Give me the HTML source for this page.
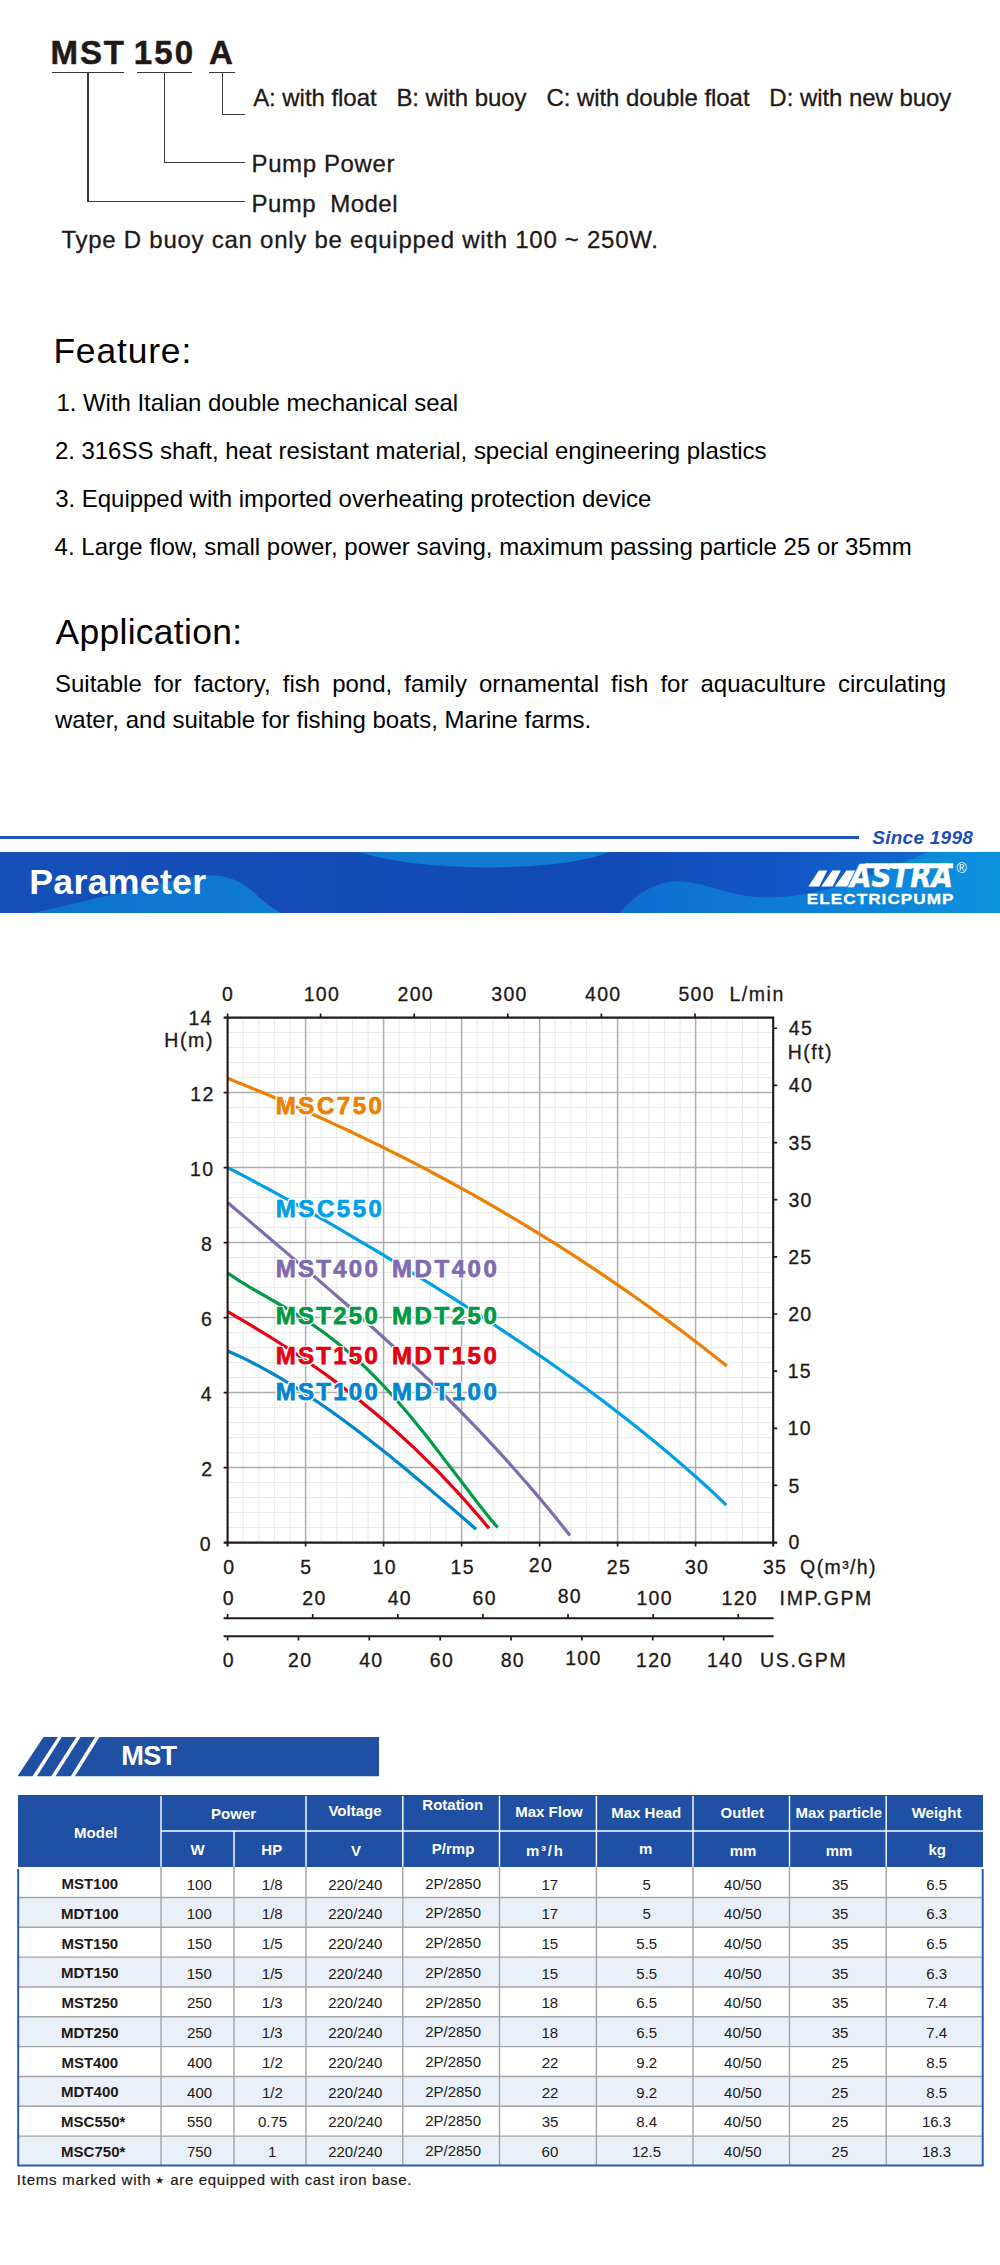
<!DOCTYPE html>
<html lang="en"><head><meta charset="utf-8"><title>MST pump parameters</title>
<style>
html,body{margin:0;padding:0;background:#fff;}
body{width:1000px;height:2265px;position:relative;overflow:hidden;font-family:"Liberation Sans",sans-serif;color:#231815;}
.t{position:absolute;white-space:nowrap;line-height:1;}
.r{position:absolute;display:block;}
.para{position:absolute;left:55px;top:665.7px;width:891px;font-size:24px;line-height:36px;color:#000;text-align:justify;}
.h{text-shadow:0.80px 0.00px 0 #fff,0.69px 0.40px 0 #fff,0.40px 0.69px 0 #fff,0.00px 0.80px 0 #fff,-0.40px 0.69px 0 #fff,-0.69px 0.40px 0 #fff,-0.80px 0.00px 0 #fff,-0.69px -0.40px 0 #fff,-0.40px -0.69px 0 #fff,-0.00px -0.80px 0 #fff,0.40px -0.69px 0 #fff,0.69px -0.40px 0 #fff,1.50px 0.00px 0 #fff,1.30px 0.75px 0 #fff,0.75px 1.30px 0 #fff,0.00px 1.50px 0 #fff,-0.75px 1.30px 0 #fff,-1.30px 0.75px 0 #fff,-1.50px 0.00px 0 #fff,-1.30px -0.75px 0 #fff,-0.75px -1.30px 0 #fff,-0.00px -1.50px 0 #fff,0.75px -1.30px 0 #fff,1.30px -0.75px 0 #fff;}
</style></head>
<body>
<span class="t" style="left:50.62px;top:36.07px;font-size:33px;font-weight:700;letter-spacing:1.82px;-webkit-text-stroke:0.5px #231815;">MST</span>
<span class="t" style="left:133.65px;top:36.07px;font-size:33px;font-weight:700;letter-spacing:2.21px;-webkit-text-stroke:0.5px #231815;">150</span>
<span class="t" style="left:209.11px;top:36.07px;font-size:33px;font-weight:700;-webkit-text-stroke:0.5px #231815;">A</span>
<div class="r" style="left:52.00px;top:71.80px;width:71.50px;height:1.20px;background:#3e3a39;"></div>
<div class="r" style="left:136.50px;top:71.80px;width:55.00px;height:1.20px;background:#3e3a39;"></div>
<div class="r" style="left:208.50px;top:71.80px;width:26.50px;height:1.20px;background:#3e3a39;"></div>
<div class="r" style="left:87.40px;top:72.00px;width:1.20px;height:130.00px;background:#3e3a39;"></div>
<div class="r" style="left:87.40px;top:200.90px;width:157.60px;height:1.20px;background:#3e3a39;"></div>
<div class="r" style="left:163.70px;top:72.00px;width:1.20px;height:91.00px;background:#3e3a39;"></div>
<div class="r" style="left:163.70px;top:161.90px;width:81.30px;height:1.20px;background:#3e3a39;"></div>
<div class="r" style="left:221.60px;top:72.00px;width:1.20px;height:42.80px;background:#3e3a39;"></div>
<div class="r" style="left:221.60px;top:113.60px;width:23.00px;height:1.20px;background:#3e3a39;"></div>
<span class="t" style="left:253.15px;top:86.08px;font-size:24px;letter-spacing:-0.05px;-webkit-text-stroke:0.3px #231815;white-space:pre;">A: with float   B: with buoy   C: with double float   D: with new buoy</span>
<span class="t" style="left:251.53px;top:151.58px;font-size:24px;letter-spacing:0.61px;-webkit-text-stroke:0.3px #231815;">Pump Power</span>
<span class="t" style="left:251.53px;top:191.88px;font-size:24px;letter-spacing:0.46px;-webkit-text-stroke:0.3px #231815;white-space:pre;">Pump  Model</span>
<span class="t" style="left:61.47px;top:228.28px;font-size:24px;letter-spacing:0.74px;-webkit-text-stroke:0.3px #231815;">Type D buoy can only be equipped with 100 ~ 250W.</span>
<span class="t" style="left:53.40px;top:333.53px;font-size:35.4px;letter-spacing:0.86px;color:#000;">Feature:</span>
<span class="t" style="left:56.38px;top:391.48px;font-size:24px;letter-spacing:-0.03px;color:#000;">1. With Italian double mechanical seal</span>
<span class="t" style="left:54.90px;top:439.38px;font-size:24px;letter-spacing:-0.03px;color:#000;">2. 316SS shaft, heat resistant material, special engineering plastics</span>
<span class="t" style="left:55.19px;top:487.28px;font-size:24px;letter-spacing:-0.03px;color:#000;">3. Equipped with imported overheating protection device</span>
<span class="t" style="left:54.57px;top:535.18px;font-size:24px;letter-spacing:0.01px;color:#000;">4. Large flow, small power, power saving, maximum passing particle 25 or 35mm</span>
<span class="t" style="left:55.53px;top:615.23px;font-size:35.4px;letter-spacing:0.32px;color:#000;">Application:</span>
<div class="para">Suitable for factory, fish pond, family ornamental fish for aquaculture circulating water, and suitable for fishing boats, Marine farms.</div>
<div class="r" style="left:0;top:836.2px;width:859px;height:3px;background:#1c57b9"></div>
<span class="t" style="left:872.27px;top:827.62px;font-size:19px;font-weight:700;font-style:italic;letter-spacing:0.26px;color:#1c4fb4;">Since 1998</span>
<svg class="r" style="left:0;top:851.5px" width="1000" height="61.5" viewBox="0 851.5 1000 61.5">
<defs>
<linearGradient id="bg" x1="0" x2="1" y1="0" y2="0"><stop offset="0" stop-color="#154fb8"/><stop offset="0.6" stop-color="#114ab4"/><stop offset="0.8" stop-color="#1258c6"/><stop offset="1" stop-color="#0f74d6"/></linearGradient>
<linearGradient id="lt" x1="0" x2="1" y1="0" y2="0"><stop offset="0" stop-color="#0e74ce"/><stop offset="1" stop-color="#0f7ad3"/></linearGradient>
<linearGradient id="rt" x1="0" x2="1" y1="0" y2="0"><stop offset="0" stop-color="#0f6ccf"/><stop offset="1" stop-color="#0c92de"/></linearGradient>
</defs>
<rect x="0" y="851.5" width="1000" height="61.5" fill="url(#bg)"/>
<path d="M30 913 C100 898 150 884 190 877 C225 871 240 880 255 893 C265 902 272 908 282 913 Z" fill="url(#lt)"/>
<path d="M359 851.5 C420 872 560 872 609 851.5 Z" fill="#117bd2"/>
<path d="M619 913 C635 895 650 884 672 881 C700 878 730 898 770 897 C830 896 880 870 930 851.5 L1000 851.5 L1000 913 Z" fill="url(#rt)"/>
</svg>
<span class="t" style="left:29.24px;top:865.18px;font-size:35.7px;font-weight:700;letter-spacing:0.29px;color:#fff;">Parameter</span>
<svg class="r" style="left:800px;top:855px" width="180" height="40" viewBox="800 855 180 40">
<g fill="#fff">
<polygon points="808.4,886.5 819.2,886.5 827.2,870.4 818.8,870.4"/>
<polygon points="821.2,886.5 832.6,886.5 840.8,870.4 832.4,870.4"/>
<polygon points="834.8,886.5 847.2,886.5 855.2,870.4 846.4,870.4"/>
<polygon points="865.6,863.2 953.2,863.2 953.2,868.2 862.4,868.2"/>
</g>
<text x="850" y="886.5" font-family="DejaVu Sans, sans-serif" font-weight="700" font-style="italic" font-size="31.5" fill="#fff" stroke="#fff" stroke-width="0.5" textLength="103" lengthAdjust="spacingAndGlyphs">ASTRA</text>
<text x="961.6" y="872.6" font-family="Liberation Sans, sans-serif" font-size="14" fill="#fff" text-anchor="middle">®</text>
</svg>
<span class="t" style="left:807.00px;top:890.83px;font-size:15.2px;font-weight:700;letter-spacing:0.90px;color:#fff;-webkit-text-stroke:0.3px #fff;transform:scaleX(1.13);transform-origin:1.1px 0;">ELECTRICPUMP</span>
<svg class="r" style="left:0;top:960px" width="1000" height="740" viewBox="0 960 1000 740">
<path d="M243.20 1017.60V1542.60M258.80 1017.60V1542.60M274.40 1017.60V1542.60M290.00 1017.60V1542.60M321.20 1017.60V1542.60M336.80 1017.60V1542.60M352.40 1017.60V1542.60M368.00 1017.60V1542.60M399.20 1017.60V1542.60M414.80 1017.60V1542.60M430.40 1017.60V1542.60M446.00 1017.60V1542.60M477.20 1017.60V1542.60M492.80 1017.60V1542.60M508.40 1017.60V1542.60M524.00 1017.60V1542.60M555.20 1017.60V1542.60M570.80 1017.60V1542.60M586.40 1017.60V1542.60M602.00 1017.60V1542.60M633.20 1017.60V1542.60M648.80 1017.60V1542.60M664.40 1017.60V1542.60M680.00 1017.60V1542.60M711.20 1017.60V1542.60M726.80 1017.60V1542.60M742.40 1017.60V1542.60M758.00 1017.60V1542.60M227.60 1527.60H773.60M227.60 1512.60H773.60M227.60 1497.60H773.60M227.60 1482.60H773.60M227.60 1452.60H773.60M227.60 1437.60H773.60M227.60 1422.60H773.60M227.60 1407.60H773.60M227.60 1377.60H773.60M227.60 1362.60H773.60M227.60 1347.60H773.60M227.60 1332.60H773.60M227.60 1302.60H773.60M227.60 1287.60H773.60M227.60 1272.60H773.60M227.60 1257.60H773.60M227.60 1227.60H773.60M227.60 1212.60H773.60M227.60 1197.60H773.60M227.60 1182.60H773.60M227.60 1152.60H773.60M227.60 1137.60H773.60M227.60 1122.60H773.60M227.60 1107.60H773.60M227.60 1077.60H773.60M227.60 1062.60H773.60M227.60 1047.60H773.60M227.60 1032.60H773.60" stroke="#e5e5e5" stroke-width="0.9" fill="none"/>
<path d="M305.60 1017.60V1542.60M383.60 1017.60V1542.60M461.60 1017.60V1542.60M539.60 1017.60V1542.60M617.60 1017.60V1542.60M695.60 1017.60V1542.60M227.60 1467.60H773.60M227.60 1392.60H773.60M227.60 1317.60H773.60M227.60 1242.60H773.60M227.60 1167.60H773.60M227.60 1092.60H773.60" stroke="#adadad" stroke-width="1.5" fill="none"/>
<polyline points="227.6,1078.3 237.8,1082.4 248.0,1086.6 258.2,1090.8 268.4,1095.0 278.5,1099.3 288.7,1103.7 298.9,1108.1 309.1,1112.7 319.3,1117.2 329.5,1121.9 339.7,1126.6 349.9,1131.3 360.0,1136.2 370.2,1141.1 380.4,1146.0 390.6,1151.1 400.8,1156.2 411.0,1161.4 421.2,1166.7 431.4,1172.0 441.5,1177.5 451.7,1183.0 461.9,1188.6 472.1,1194.2 482.3,1200.0 492.5,1205.8 502.7,1211.8 512.9,1217.8 523.0,1223.9 533.2,1230.1 543.4,1236.3 553.6,1242.7 563.8,1249.2 574.0,1255.7 584.2,1262.4 594.4,1269.1 604.5,1275.9 614.7,1282.9 624.9,1289.9 635.1,1297.0 645.3,1304.3 655.5,1311.6 665.7,1319.1 675.9,1326.6 686.0,1334.3 696.2,1342.0 706.4,1349.9 716.6,1357.9 726.8,1365.9" fill="none" stroke="#ee7f00" stroke-width="3.2"/>
<polyline points="227.6,1167.6 237.8,1172.8 248.0,1178.2 258.1,1183.6 268.3,1189.0 278.5,1194.6 288.7,1200.2 298.8,1205.9 309.0,1211.6 319.2,1217.4 329.4,1223.2 339.6,1229.1 349.7,1235.1 359.9,1241.1 370.1,1247.1 380.3,1253.2 390.5,1259.4 400.6,1265.6 410.8,1271.8 421.0,1278.1 431.2,1284.4 441.3,1290.8 451.5,1297.2 461.7,1303.7 471.9,1310.3 482.1,1316.9 492.2,1323.5 502.4,1330.3 512.6,1337.1 522.8,1343.9 532.9,1350.9 543.1,1357.9 553.3,1365.0 563.5,1372.2 573.7,1379.4 583.8,1386.8 594.0,1394.3 604.2,1401.9 614.4,1409.7 624.5,1417.5 634.7,1425.5 644.9,1433.7 655.1,1442.0 665.3,1450.4 675.4,1459.0 685.6,1467.9 695.8,1476.8 706.0,1486.0 716.2,1495.4 726.3,1505.1" fill="none" stroke="#00a0e9" stroke-width="3.2"/>
<polyline points="227.6,1202.5 234.6,1208.5 241.6,1214.4 248.6,1220.4 255.6,1226.4 262.5,1232.3 269.5,1238.2 276.5,1244.2 283.5,1250.1 290.5,1256.1 297.5,1262.1 304.5,1268.0 311.5,1274.0 318.4,1280.0 325.4,1286.1 332.4,1292.1 339.4,1298.2 346.4,1304.3 353.4,1310.5 360.4,1316.7 367.4,1322.9 374.4,1329.2 381.3,1335.5 388.3,1341.9 395.3,1348.3 402.3,1354.8 409.3,1361.3 416.3,1367.9 423.3,1374.6 430.3,1381.3 437.2,1388.1 444.2,1395.0 451.2,1402.0 458.2,1409.0 465.2,1416.2 472.2,1423.4 479.2,1430.7 486.2,1438.1 493.2,1445.6 500.1,1453.2 507.1,1460.9 514.1,1468.7 521.1,1476.7 528.1,1484.7 535.1,1492.9 542.1,1501.1 549.1,1509.5 556.0,1518.1 563.0,1526.7 570.0,1535.5" fill="none" stroke="#7f6bb0" stroke-width="3.2"/>
<polyline points="227.6,1273.0 233.1,1276.7 238.6,1280.3 244.1,1283.7 249.6,1287.1 255.2,1290.3 260.7,1293.5 266.2,1296.7 271.7,1299.8 277.2,1303.0 282.7,1306.2 288.2,1309.4 293.7,1312.7 299.2,1316.1 304.8,1319.6 310.3,1323.2 315.8,1326.9 321.3,1330.7 326.8,1334.7 332.3,1338.9 337.8,1343.2 343.3,1347.7 348.8,1352.3 354.4,1357.2 359.9,1362.2 365.4,1367.4 370.9,1372.8 376.4,1378.3 381.9,1384.0 387.4,1390.0 392.9,1396.0 398.4,1402.3 404.0,1408.7 409.5,1415.2 415.0,1421.9 420.5,1428.7 426.0,1435.6 431.5,1442.6 437.0,1449.7 442.5,1456.9 448.0,1464.1 453.5,1471.3 459.1,1478.6 464.6,1485.8 470.1,1493.0 475.6,1500.2 481.1,1507.2 486.6,1514.2 492.1,1521.0 497.6,1527.6" fill="none" stroke="#009944" stroke-width="3.2"/>
<polyline points="227.6,1311.6 232.9,1314.7 238.3,1317.8 243.6,1320.9 248.9,1324.1 254.3,1327.3 259.6,1330.6 265.0,1333.9 270.3,1337.2 275.6,1340.5 281.0,1344.0 286.3,1347.4 291.6,1350.9 297.0,1354.5 302.3,1358.1 307.6,1361.7 313.0,1365.5 318.3,1369.2 323.6,1373.0 329.0,1376.9 334.3,1380.9 339.7,1384.9 345.0,1388.9 350.3,1393.1 355.7,1397.3 361.0,1401.5 366.3,1405.9 371.7,1410.3 377.0,1414.7 382.3,1419.3 387.7,1423.9 393.0,1428.6 398.3,1433.4 403.7,1438.3 409.0,1443.2 414.4,1448.2 419.7,1453.4 425.0,1458.6 430.4,1463.9 435.7,1469.2 441.0,1474.7 446.4,1480.3 451.7,1486.0 457.0,1491.7 462.4,1497.6 467.7,1503.5 473.0,1509.6 478.4,1515.8 483.7,1522.0 489.1,1528.4" fill="none" stroke="#e60012" stroke-width="3.2"/>
<polyline points="227.6,1351.0 232.7,1353.2 237.7,1355.5 242.8,1357.9 247.9,1360.4 252.9,1363.0 258.0,1365.6 263.1,1368.3 268.1,1371.1 273.2,1374.0 278.3,1376.9 283.4,1379.9 288.4,1383.0 293.5,1386.1 298.6,1389.3 303.6,1392.6 308.7,1395.9 313.8,1399.3 318.8,1402.7 323.9,1406.2 329.0,1409.8 334.0,1413.4 339.1,1417.0 344.2,1420.7 349.2,1424.5 354.3,1428.3 359.4,1432.1 364.4,1436.0 369.5,1439.9 374.6,1443.9 379.7,1447.9 384.7,1452.0 389.8,1456.0 394.9,1460.2 399.9,1464.3 405.0,1468.5 410.1,1472.7 415.1,1476.9 420.2,1481.2 425.3,1485.4 430.3,1489.7 435.4,1494.1 440.5,1498.4 445.5,1502.7 450.6,1507.1 455.7,1511.5 460.7,1515.9 465.8,1520.3 470.9,1524.7 476.0,1529.2" fill="none" stroke="#0086d1" stroke-width="3.2"/>
<path d="M223.60 1017.60H773.60M223.60 1542.60H777.20M227.60 1016.60V1546.60M773.20 1016.60V1546.60M223.60 1618.2H773.60M223.60 1636.2H773.60" stroke="#231815" stroke-width="2.1" fill="none"/>
<path d="M223.60 1467.60H227.60M223.60 1392.60H227.60M223.60 1317.60H227.60M223.60 1242.60H227.60M223.60 1167.60H227.60M223.60 1092.60H227.60M320.60 1013.60V1017.60M414.20 1013.60V1017.60M507.80 1013.60V1017.60M601.40 1013.60V1017.60M695.00 1013.60V1017.60M227.60 1013.60V1017.60M305.60 1542.60V1546.60M383.60 1542.60V1546.60M461.60 1542.60V1546.60M539.60 1542.60V1546.60M617.60 1542.60V1546.60M695.60 1542.60V1546.60M773.60 1485.45H777.20M773.60 1428.30H777.20M773.60 1371.15H777.20M773.60 1314.00H777.20M773.60 1256.85H777.20M773.60 1199.70H777.20M773.60 1142.55H777.20M773.60 1085.40H777.20M773.60 1028.25H777.20M227.60 1614V1618.2M312.71 1614V1618.2M397.81 1614V1618.2M482.92 1614V1618.2M568.03 1614V1618.2M653.13 1614V1618.2M738.24 1614V1618.2M227.60 1636.2V1640.6M298.46 1636.2V1640.6M369.32 1636.2V1640.6M440.18 1636.2V1640.6M511.04 1636.2V1640.6M581.90 1636.2V1640.6M652.76 1636.2V1640.6M723.63 1636.2V1640.6" stroke="#231815" stroke-width="1.7" fill="none"/>
</svg>
<span class="t" style="left:221.92px;top:985.49px;font-size:19.5px;letter-spacing:1.30px;-webkit-text-stroke:0.3px #231815;">0</span>
<span class="t" style="left:303.67px;top:985.49px;font-size:19.5px;letter-spacing:1.30px;-webkit-text-stroke:0.3px #231815;">100</span>
<span class="t" style="left:397.52px;top:985.49px;font-size:19.5px;letter-spacing:1.30px;-webkit-text-stroke:0.3px #231815;">200</span>
<span class="t" style="left:491.24px;top:985.49px;font-size:19.5px;letter-spacing:1.30px;-webkit-text-stroke:0.3px #231815;">300</span>
<span class="t" style="left:584.99px;top:985.49px;font-size:19.5px;letter-spacing:1.30px;-webkit-text-stroke:0.3px #231815;">400</span>
<span class="t" style="left:678.42px;top:985.49px;font-size:19.5px;letter-spacing:1.30px;-webkit-text-stroke:0.3px #231815;">500</span>
<span class="t" style="left:729.40px;top:985.49px;font-size:19.5px;letter-spacing:1.54px;-webkit-text-stroke:0.3px #231815;">L/min</span>
<span class="t" style="left:199.80px;top:1535.49px;font-size:19.5px;letter-spacing:1.30px;-webkit-text-stroke:0.3px #231815;">0</span>
<span class="t" style="left:201.13px;top:1459.69px;font-size:19.5px;letter-spacing:1.30px;-webkit-text-stroke:0.3px #231815;">2</span>
<span class="t" style="left:200.72px;top:1384.69px;font-size:19.5px;letter-spacing:1.30px;-webkit-text-stroke:0.3px #231815;">4</span>
<span class="t" style="left:201.00px;top:1309.69px;font-size:19.5px;letter-spacing:1.30px;-webkit-text-stroke:0.3px #231815;">6</span>
<span class="t" style="left:201.00px;top:1234.69px;font-size:19.5px;letter-spacing:1.30px;-webkit-text-stroke:0.3px #231815;">8</span>
<span class="t" style="left:190.06px;top:1159.69px;font-size:19.5px;letter-spacing:1.30px;-webkit-text-stroke:0.3px #231815;">10</span>
<span class="t" style="left:190.29px;top:1084.69px;font-size:19.5px;letter-spacing:1.30px;-webkit-text-stroke:0.3px #231815;">12</span>
<span class="t" style="left:188.38px;top:1009.29px;font-size:19.5px;letter-spacing:1.30px;-webkit-text-stroke:0.3px #231815;">14</span>
<span class="t" style="left:164.20px;top:1030.69px;font-size:19.5px;letter-spacing:1.63px;-webkit-text-stroke:0.3px #231815;">H(m)</span>
<span class="t" style="left:788.44px;top:1533.49px;font-size:19.5px;letter-spacing:1.30px;-webkit-text-stroke:0.3px #231815;">0</span>
<span class="t" style="left:788.42px;top:1476.54px;font-size:19.5px;letter-spacing:1.30px;-webkit-text-stroke:0.3px #231815;">5</span>
<span class="t" style="left:787.72px;top:1419.39px;font-size:19.5px;letter-spacing:1.30px;-webkit-text-stroke:0.3px #231815;">10</span>
<span class="t" style="left:787.72px;top:1362.24px;font-size:19.5px;letter-spacing:1.30px;-webkit-text-stroke:0.3px #231815;">15</span>
<span class="t" style="left:788.23px;top:1305.09px;font-size:19.5px;letter-spacing:1.30px;-webkit-text-stroke:0.3px #231815;">20</span>
<span class="t" style="left:788.23px;top:1247.94px;font-size:19.5px;letter-spacing:1.30px;-webkit-text-stroke:0.3px #231815;">25</span>
<span class="t" style="left:788.46px;top:1190.79px;font-size:19.5px;letter-spacing:1.30px;-webkit-text-stroke:0.3px #231815;">30</span>
<span class="t" style="left:788.46px;top:1133.64px;font-size:19.5px;letter-spacing:1.30px;-webkit-text-stroke:0.3px #231815;">35</span>
<span class="t" style="left:788.77px;top:1076.49px;font-size:19.5px;letter-spacing:1.30px;-webkit-text-stroke:0.3px #231815;">40</span>
<span class="t" style="left:788.77px;top:1019.34px;font-size:19.5px;letter-spacing:1.30px;-webkit-text-stroke:0.3px #231815;">45</span>
<span class="t" style="left:787.80px;top:1042.69px;font-size:19.5px;letter-spacing:1.42px;-webkit-text-stroke:0.3px #231815;">H(ft)</span>
<span class="t" style="left:223.32px;top:1557.89px;font-size:19.5px;letter-spacing:1.30px;-webkit-text-stroke:0.3px #231815;">0</span>
<span class="t" style="left:300.34px;top:1557.89px;font-size:19.5px;letter-spacing:1.30px;-webkit-text-stroke:0.3px #231815;">5</span>
<span class="t" style="left:372.54px;top:1557.89px;font-size:19.5px;letter-spacing:1.30px;-webkit-text-stroke:0.3px #231815;">10</span>
<span class="t" style="left:450.57px;top:1557.89px;font-size:19.5px;letter-spacing:1.30px;-webkit-text-stroke:0.3px #231815;">15</span>
<span class="t" style="left:528.79px;top:1555.89px;font-size:19.5px;letter-spacing:1.30px;-webkit-text-stroke:0.3px #231815;">20</span>
<span class="t" style="left:606.82px;top:1557.89px;font-size:19.5px;letter-spacing:1.30px;-webkit-text-stroke:0.3px #231815;">25</span>
<span class="t" style="left:684.91px;top:1557.89px;font-size:19.5px;letter-spacing:1.30px;-webkit-text-stroke:0.3px #231815;">30</span>
<span class="t" style="left:762.94px;top:1557.89px;font-size:19.5px;letter-spacing:1.30px;-webkit-text-stroke:0.3px #231815;">35</span>
<span class="t" style="left:800.08px;top:1557.89px;font-size:19.5px;letter-spacing:1.39px;-webkit-text-stroke:0.3px #231815;">Q(m³/h)</span>
<span class="t" style="left:222.72px;top:1589.49px;font-size:19.5px;letter-spacing:1.30px;-webkit-text-stroke:0.3px #231815;">0</span>
<span class="t" style="left:302.30px;top:1589.49px;font-size:19.5px;letter-spacing:1.30px;-webkit-text-stroke:0.3px #231815;">20</span>
<span class="t" style="left:387.68px;top:1589.49px;font-size:19.5px;letter-spacing:1.30px;-webkit-text-stroke:0.3px #231815;">40</span>
<span class="t" style="left:472.51px;top:1589.49px;font-size:19.5px;letter-spacing:1.30px;-webkit-text-stroke:0.3px #231815;">60</span>
<span class="t" style="left:557.68px;top:1587.49px;font-size:19.5px;letter-spacing:1.30px;-webkit-text-stroke:0.3px #231815;">80</span>
<span class="t" style="left:636.40px;top:1589.49px;font-size:19.5px;letter-spacing:1.30px;-webkit-text-stroke:0.3px #231815;">100</span>
<span class="t" style="left:721.50px;top:1589.49px;font-size:19.5px;letter-spacing:1.30px;-webkit-text-stroke:0.3px #231815;">120</span>
<span class="t" style="left:779.61px;top:1589.49px;font-size:19.5px;letter-spacing:1.62px;-webkit-text-stroke:0.3px #231815;">IMP.GPM</span>
<span class="t" style="left:222.72px;top:1650.69px;font-size:19.5px;letter-spacing:1.30px;-webkit-text-stroke:0.3px #231815;">0</span>
<span class="t" style="left:288.05px;top:1650.69px;font-size:19.5px;letter-spacing:1.30px;-webkit-text-stroke:0.3px #231815;">20</span>
<span class="t" style="left:359.19px;top:1650.69px;font-size:19.5px;letter-spacing:1.30px;-webkit-text-stroke:0.3px #231815;">40</span>
<span class="t" style="left:429.77px;top:1650.69px;font-size:19.5px;letter-spacing:1.30px;-webkit-text-stroke:0.3px #231815;">60</span>
<span class="t" style="left:500.70px;top:1650.69px;font-size:19.5px;letter-spacing:1.30px;-webkit-text-stroke:0.3px #231815;">80</span>
<span class="t" style="left:565.17px;top:1648.69px;font-size:19.5px;letter-spacing:1.30px;-webkit-text-stroke:0.3px #231815;">100</span>
<span class="t" style="left:636.03px;top:1650.69px;font-size:19.5px;letter-spacing:1.30px;-webkit-text-stroke:0.3px #231815;">120</span>
<span class="t" style="left:706.89px;top:1650.69px;font-size:19.5px;letter-spacing:1.30px;-webkit-text-stroke:0.3px #231815;">140</span>
<span class="t" style="left:759.90px;top:1650.69px;font-size:19.5px;letter-spacing:1.79px;-webkit-text-stroke:0.3px #231815;">US.GPM</span>
<span class="t h" style="left:275.82px;top:1093.88px;font-size:24px;font-weight:700;letter-spacing:2.55px;color:#ee7f00;-webkit-text-stroke:0.75px #ee7f00;">MSC750</span>
<span class="t h" style="left:275.82px;top:1196.88px;font-size:24px;font-weight:700;letter-spacing:2.55px;color:#00a0e9;-webkit-text-stroke:0.75px #00a0e9;">MSC550</span>
<span class="t h" style="left:275.82px;top:1257.38px;font-size:24px;font-weight:700;letter-spacing:2.25px;color:#7f6bb0;-webkit-text-stroke:0.75px #7f6bb0;">MST400</span>
<span class="t h" style="left:392.02px;top:1257.38px;font-size:24px;font-weight:700;letter-spacing:2.55px;color:#7f6bb0;-webkit-text-stroke:0.75px #7f6bb0;">MDT400</span>
<span class="t h" style="left:275.82px;top:1304.18px;font-size:24px;font-weight:700;letter-spacing:2.25px;color:#009944;-webkit-text-stroke:0.75px #009944;">MST250</span>
<span class="t h" style="left:392.02px;top:1304.18px;font-size:24px;font-weight:700;letter-spacing:2.55px;color:#009944;-webkit-text-stroke:0.75px #009944;">MDT250</span>
<span class="t h" style="left:275.82px;top:1343.98px;font-size:24px;font-weight:700;letter-spacing:2.25px;color:#e60012;-webkit-text-stroke:0.75px #e60012;">MST150</span>
<span class="t h" style="left:392.02px;top:1343.98px;font-size:24px;font-weight:700;letter-spacing:2.55px;color:#e60012;-webkit-text-stroke:0.75px #e60012;">MDT150</span>
<span class="t h" style="left:275.82px;top:1379.68px;font-size:24px;font-weight:700;letter-spacing:2.25px;color:#0086d1;-webkit-text-stroke:0.75px #0086d1;">MST100</span>
<span class="t h" style="left:392.02px;top:1379.68px;font-size:24px;font-weight:700;letter-spacing:2.55px;color:#0086d1;-webkit-text-stroke:0.75px #0086d1;">MDT100</span>
<svg class="r" style="left:0;top:1730px" width="400" height="52" viewBox="0 1730 400 52">
<g fill="#2050a4">
<polygon points="17.5,1776.3 32.5,1776.3 58,1737 43.5,1737"/>
<polygon points="37,1776.3 51.3,1776.3 76.3,1737 61.8,1737"/>
<polygon points="55.5,1776.3 70.8,1776.3 95,1737 80.5,1737"/>
<polygon points="75,1776.3 379,1776.3 379,1737 99.5,1737"/>
</g></svg>
<span class="t" style="left:121.20px;top:1741.98px;font-size:27.2px;font-weight:700;letter-spacing:-0.68px;color:#fff;">MST</span>
<div class="r" style="left:17.50px;top:1794.50px;width:965.80px;height:72.30px;background:#2050a4;"></div>
<svg class="r" style="left:0;top:1790px" width="1000" height="80" viewBox="0 1790 1000 80"><path d="M161.00 1796.00V1866.80M234.00 1831.00V1866.80M306.00 1796.00V1866.80M402.80 1796.00V1866.80M499.50 1796.00V1866.80M596.40 1796.00V1866.80M693.00 1796.00V1866.80M789.50 1796.00V1866.80M886.20 1796.00V1866.80M161.00 1831.00H983.30" stroke="#fff" stroke-width="1.4" fill="none"/></svg>
<span class="t" style="left:74.11px;top:1824.60px;font-size:15px;font-weight:700;color:#fff;">Model</span>
<span class="t" style="left:211.10px;top:1805.80px;font-size:15px;font-weight:700;color:#fff;">Power</span>
<span class="t" style="left:328.43px;top:1803.30px;font-size:15px;font-weight:700;color:#fff;">Voltage</span>
<span class="t" style="left:422.31px;top:1797.30px;font-size:15px;font-weight:700;color:#fff;">Rotation</span>
<span class="t" style="left:515.23px;top:1804.30px;font-size:15px;font-weight:700;color:#fff;">Max Flow</span>
<span class="t" style="left:611.23px;top:1805.30px;font-size:15px;font-weight:700;color:#fff;">Max Head</span>
<span class="t" style="left:720.62px;top:1804.80px;font-size:15px;font-weight:700;color:#fff;">Outlet</span>
<span class="t" style="left:795.41px;top:1804.80px;font-size:15px;font-weight:700;color:#fff;">Max particle</span>
<span class="t" style="left:911.73px;top:1805.30px;font-size:15px;font-weight:700;color:#fff;">Weight</span>
<span class="t" style="left:190.42px;top:1842.30px;font-size:15px;font-weight:700;color:#fff;">W</span>
<span class="t" style="left:261.34px;top:1842.30px;font-size:15px;font-weight:700;color:#fff;">HP</span>
<span class="t" style="left:351.00px;top:1842.80px;font-size:15px;font-weight:700;color:#fff;">V</span>
<span class="t" style="left:431.81px;top:1840.80px;font-size:15px;font-weight:700;color:#fff;">P/rmp</span>
<span class="t" style="left:526.02px;top:1843.30px;font-size:15px;font-weight:700;letter-spacing:1.75px;color:#fff;">m³/h</span>
<span class="t" style="left:639.05px;top:1841.30px;font-size:15px;font-weight:700;color:#fff;">m</span>
<span class="t" style="left:729.63px;top:1842.80px;font-size:15px;font-weight:700;color:#fff;">mm</span>
<span class="t" style="left:825.63px;top:1842.80px;font-size:15px;font-weight:700;color:#fff;">mm</span>
<span class="t" style="left:928.48px;top:1842.30px;font-size:15px;font-weight:700;color:#fff;">kg</span>
<div class="r" style="left:17.50px;top:1897.44px;width:965.80px;height:29.84px;background:#e9f0fa;"></div>
<div class="r" style="left:17.50px;top:1957.12px;width:965.80px;height:29.84px;background:#e9f0fa;"></div>
<div class="r" style="left:17.50px;top:2016.80px;width:965.80px;height:29.84px;background:#e9f0fa;"></div>
<div class="r" style="left:17.50px;top:2076.48px;width:965.80px;height:29.84px;background:#e9f0fa;"></div>
<div class="r" style="left:17.50px;top:2136.16px;width:965.80px;height:29.84px;background:#e9f0fa;"></div>
<svg class="r" style="left:0;top:1860px" width="1000" height="310" viewBox="0 1860 1000 310"><path d="M17.50 1897.44H983.30M17.50 1927.28H983.30M17.50 1957.12H983.30M17.50 1986.96H983.30M17.50 2016.80H983.30M17.50 2046.64H983.30M17.50 2076.48H983.30M17.50 2106.32H983.30M17.50 2136.16H983.30M161.00 1866.80V2165M234.00 1866.80V2165M306.00 1866.80V2165M402.80 1866.80V2165M499.50 1866.80V2165M596.40 1866.80V2165M693.00 1866.80V2165M789.50 1866.80V2165M886.20 1866.80V2165" stroke="#a3a3a3" stroke-width="1.4" fill="none"/><path d="M18.2 1869V2165.5H982.70V1869" stroke="#2a5cb0" stroke-width="2" fill="none"/></svg>
<span class="t" style="left:61.46px;top:1876.20px;font-size:15px;font-weight:700;">MST100</span>
<span class="t" style="left:186.71px;top:1876.50px;font-size:15px;">100</span>
<span class="t" style="left:261.83px;top:1876.50px;font-size:15px;">1/8</span>
<span class="t" style="left:328.20px;top:1876.50px;font-size:15px;">220/240</span>
<span class="t" style="left:425.17px;top:1875.70px;font-size:15px;">2P/2850</span>
<span class="t" style="left:541.47px;top:1876.50px;font-size:15px;">17</span>
<span class="t" style="left:642.59px;top:1876.50px;font-size:15px;">5</span>
<span class="t" style="left:724.10px;top:1876.50px;font-size:15px;">40/50</span>
<span class="t" style="left:831.68px;top:1876.50px;font-size:15px;">35</span>
<span class="t" style="left:926.26px;top:1876.50px;font-size:15px;">6.5</span>
<span class="t" style="left:61.05px;top:1905.92px;font-size:15px;font-weight:700;">MDT100</span>
<span class="t" style="left:186.71px;top:1906.22px;font-size:15px;">100</span>
<span class="t" style="left:261.83px;top:1906.22px;font-size:15px;">1/8</span>
<span class="t" style="left:328.20px;top:1906.22px;font-size:15px;">220/240</span>
<span class="t" style="left:425.17px;top:1905.42px;font-size:15px;">2P/2850</span>
<span class="t" style="left:541.47px;top:1906.22px;font-size:15px;">17</span>
<span class="t" style="left:642.59px;top:1906.22px;font-size:15px;">5</span>
<span class="t" style="left:724.10px;top:1906.22px;font-size:15px;">40/50</span>
<span class="t" style="left:831.68px;top:1906.22px;font-size:15px;">35</span>
<span class="t" style="left:926.27px;top:1906.22px;font-size:15px;">6.3</span>
<span class="t" style="left:61.46px;top:1935.64px;font-size:15px;font-weight:700;">MST150</span>
<span class="t" style="left:186.71px;top:1935.94px;font-size:15px;">150</span>
<span class="t" style="left:261.81px;top:1935.94px;font-size:15px;">1/5</span>
<span class="t" style="left:328.20px;top:1935.94px;font-size:15px;">220/240</span>
<span class="t" style="left:425.17px;top:1935.14px;font-size:15px;">2P/2850</span>
<span class="t" style="left:541.40px;top:1935.94px;font-size:15px;">15</span>
<span class="t" style="left:636.33px;top:1935.94px;font-size:15px;">5.5</span>
<span class="t" style="left:724.10px;top:1935.94px;font-size:15px;">40/50</span>
<span class="t" style="left:831.68px;top:1935.94px;font-size:15px;">35</span>
<span class="t" style="left:926.26px;top:1935.94px;font-size:15px;">6.5</span>
<span class="t" style="left:61.05px;top:1965.36px;font-size:15px;font-weight:700;">MDT150</span>
<span class="t" style="left:186.71px;top:1965.66px;font-size:15px;">150</span>
<span class="t" style="left:261.81px;top:1965.66px;font-size:15px;">1/5</span>
<span class="t" style="left:328.20px;top:1965.66px;font-size:15px;">220/240</span>
<span class="t" style="left:425.17px;top:1964.86px;font-size:15px;">2P/2850</span>
<span class="t" style="left:541.40px;top:1965.66px;font-size:15px;">15</span>
<span class="t" style="left:636.33px;top:1965.66px;font-size:15px;">5.5</span>
<span class="t" style="left:724.10px;top:1965.66px;font-size:15px;">40/50</span>
<span class="t" style="left:831.68px;top:1965.66px;font-size:15px;">35</span>
<span class="t" style="left:926.27px;top:1965.66px;font-size:15px;">6.3</span>
<span class="t" style="left:61.46px;top:1995.08px;font-size:15px;font-weight:700;">MST250</span>
<span class="t" style="left:186.90px;top:1995.38px;font-size:15px;">250</span>
<span class="t" style="left:261.83px;top:1995.38px;font-size:15px;">1/3</span>
<span class="t" style="left:328.20px;top:1995.38px;font-size:15px;">220/240</span>
<span class="t" style="left:425.17px;top:1994.58px;font-size:15px;">2P/2850</span>
<span class="t" style="left:541.41px;top:1995.38px;font-size:15px;">18</span>
<span class="t" style="left:636.26px;top:1995.38px;font-size:15px;">6.5</span>
<span class="t" style="left:724.10px;top:1995.38px;font-size:15px;">40/50</span>
<span class="t" style="left:831.68px;top:1995.38px;font-size:15px;">35</span>
<span class="t" style="left:926.16px;top:1995.38px;font-size:15px;">7.4</span>
<span class="t" style="left:61.05px;top:2024.80px;font-size:15px;font-weight:700;">MDT250</span>
<span class="t" style="left:186.90px;top:2025.10px;font-size:15px;">250</span>
<span class="t" style="left:261.83px;top:2025.10px;font-size:15px;">1/3</span>
<span class="t" style="left:328.20px;top:2025.10px;font-size:15px;">220/240</span>
<span class="t" style="left:425.17px;top:2024.30px;font-size:15px;">2P/2850</span>
<span class="t" style="left:541.41px;top:2025.10px;font-size:15px;">18</span>
<span class="t" style="left:636.26px;top:2025.10px;font-size:15px;">6.5</span>
<span class="t" style="left:724.10px;top:2025.10px;font-size:15px;">40/50</span>
<span class="t" style="left:831.68px;top:2025.10px;font-size:15px;">35</span>
<span class="t" style="left:926.16px;top:2025.10px;font-size:15px;">7.4</span>
<span class="t" style="left:61.46px;top:2054.52px;font-size:15px;font-weight:700;">MST400</span>
<span class="t" style="left:187.11px;top:2054.82px;font-size:15px;">400</span>
<span class="t" style="left:261.88px;top:2054.82px;font-size:15px;">1/2</span>
<span class="t" style="left:328.20px;top:2054.82px;font-size:15px;">220/240</span>
<span class="t" style="left:425.17px;top:2054.02px;font-size:15px;">2P/2850</span>
<span class="t" style="left:541.66px;top:2054.82px;font-size:15px;">22</span>
<span class="t" style="left:636.35px;top:2054.82px;font-size:15px;">9.2</span>
<span class="t" style="left:724.10px;top:2054.82px;font-size:15px;">40/50</span>
<span class="t" style="left:831.59px;top:2054.82px;font-size:15px;">25</span>
<span class="t" style="left:926.31px;top:2054.82px;font-size:15px;">8.5</span>
<span class="t" style="left:61.05px;top:2084.24px;font-size:15px;font-weight:700;">MDT400</span>
<span class="t" style="left:187.11px;top:2084.54px;font-size:15px;">400</span>
<span class="t" style="left:261.88px;top:2084.54px;font-size:15px;">1/2</span>
<span class="t" style="left:328.20px;top:2084.54px;font-size:15px;">220/240</span>
<span class="t" style="left:425.17px;top:2083.74px;font-size:15px;">2P/2850</span>
<span class="t" style="left:541.66px;top:2084.54px;font-size:15px;">22</span>
<span class="t" style="left:636.35px;top:2084.54px;font-size:15px;">9.2</span>
<span class="t" style="left:724.10px;top:2084.54px;font-size:15px;">40/50</span>
<span class="t" style="left:831.59px;top:2084.54px;font-size:15px;">25</span>
<span class="t" style="left:926.31px;top:2084.54px;font-size:15px;">8.5</span>
<span class="t" style="left:61.11px;top:2113.96px;font-size:15px;font-weight:700;">MSC550*</span>
<span class="t" style="left:186.97px;top:2114.26px;font-size:15px;">550</span>
<span class="t" style="left:257.92px;top:2114.26px;font-size:15px;">0.75</span>
<span class="t" style="left:328.20px;top:2114.26px;font-size:15px;">220/240</span>
<span class="t" style="left:425.17px;top:2113.46px;font-size:15px;">2P/2850</span>
<span class="t" style="left:541.68px;top:2114.26px;font-size:15px;">35</span>
<span class="t" style="left:636.22px;top:2114.26px;font-size:15px;">8.4</span>
<span class="t" style="left:724.10px;top:2114.26px;font-size:15px;">40/50</span>
<span class="t" style="left:831.59px;top:2114.26px;font-size:15px;">25</span>
<span class="t" style="left:921.91px;top:2114.26px;font-size:15px;">16.3</span>
<span class="t" style="left:61.11px;top:2143.68px;font-size:15px;font-weight:700;">MSC750*</span>
<span class="t" style="left:186.89px;top:2143.98px;font-size:15px;">750</span>
<span class="t" style="left:268.12px;top:2143.98px;font-size:15px;">1</span>
<span class="t" style="left:328.20px;top:2143.98px;font-size:15px;">220/240</span>
<span class="t" style="left:425.17px;top:2143.18px;font-size:15px;">2P/2850</span>
<span class="t" style="left:541.57px;top:2143.98px;font-size:15px;">60</span>
<span class="t" style="left:631.89px;top:2143.98px;font-size:15px;">12.5</span>
<span class="t" style="left:724.10px;top:2143.98px;font-size:15px;">40/50</span>
<span class="t" style="left:831.59px;top:2143.98px;font-size:15px;">25</span>
<span class="t" style="left:921.91px;top:2143.98px;font-size:15px;">18.3</span>
<span class="t" style="left:16.82px;top:2171.70px;font-size:15px;letter-spacing:0.75px;-webkit-text-stroke:0.2px #231815;">Items marked with</span>
<span class="t" style="left:152.50px;top:2169.22px;font-size:21px;">⋆</span>
<span class="t" style="left:170.37px;top:2171.70px;font-size:15px;letter-spacing:0.65px;-webkit-text-stroke:0.2px #231815;">are equipped with cast iron base.</span>
</body></html>
